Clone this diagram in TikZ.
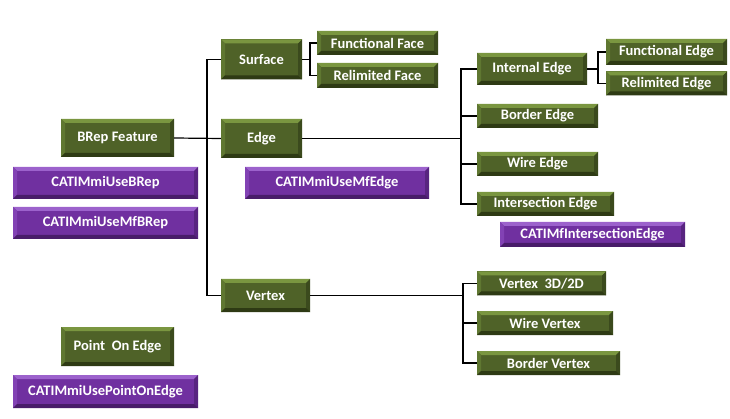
\documentclass[tikz,border=0pt]{standalone}
\usepackage{fontspec}
\setmainfont{Carlito}
\usetikzlibrary{calc}

\definecolor{grnmid}{HTML}{4F6228}
\definecolor{grntop}{HTML}{7A9640}
\definecolor{grnleft}{HTML}{5F7731}
\definecolor{grnright}{HTML}{3B4A1D}
\definecolor{grnbot}{HTML}{2E3A14}
\definecolor{purmid}{HTML}{7030A0}
\definecolor{purtop}{HTML}{9C62CC}
\definecolor{purleft}{HTML}{8242B4}
\definecolor{purright}{HTML}{582480}
\definecolor{purbot}{HTML}{481C69}

\begin{document}
\begin{tikzpicture}[
  x=1pt, y=-1pt,
  font=\fontsize{14.5}{16}\selectfont\bfseries,
  bevel/.style n args={4}{path picture={
    \coordinate (bnw) at (path picture bounding box.north west);
    \coordinate (bse) at (path picture bounding box.south east);
    \coordinate (bne) at (bse |- bnw);
    \coordinate (bsw) at (bnw |- bse);
    \fill[#1] (bnw) -- (bne) -- ($(bne)+(-4pt,-4pt)$) -- ($(bnw)+(4pt,-4pt)$) -- cycle;
    \fill[#2] (bnw) -- ($(bnw)+(4pt,-4pt)$) -- ($(bsw)+(4pt,4pt)$) -- (bsw) -- cycle;
    \fill[#3] (bne) -- ($(bne)+(-4pt,-4pt)$) -- ($(bse)+(-4pt,4pt)$) -- (bse) -- cycle;
    \fill[#4] (bsw) -- ($(bsw)+(4pt,4pt)$) -- ($(bse)+(-4pt,4pt)$) -- (bse) -- cycle;
  }},
  box/.style={text=white, inner sep=0pt, align=center},
  feat/.style={box, fill=grnmid, bevel={grntop}{grnleft}{grnright}{grnbot}},
  iface/.style={box, fill=purmid, bevel={purtop}{purleft}{purright}{purbot}},
  link/.style={line width=1.2pt, black}
]
  \useasboundingbox (0,0) rectangle (730,419);

  %% left column
  \node[feat, minimum width=113, minimum height=38] (brep) at (117.5,138) {BRep Feature};
  \node[iface, minimum width=185, minimum height=32] (usebrep) at (105.5,183) {CATIMmiUseBRep};
  \node[iface, minimum width=185, minimum height=32] (usemfbrep) at (105.5,223) {CATIMmiUseMfBRep};
  \node[feat, minimum width=113, minimum height=39] (ptonedge) at (117.5,346.5) {Point\ \ On Edge};
  \node[iface, minimum width=185, minimum height=33] (useptonedge) at (105.5,391.5) {CATIMmiUsePointOnEdge};

  %% topology
  \node[feat, minimum width=81, minimum height=40] (surf) at (261.5,59.5) {Surface};
  \node[feat, minimum width=81, minimum height=39] (edge) at (261.5,138.5) {Edge};
  \node[feat, minimum width=89, minimum height=33] (vert) at (265.5,295.5) {Vertex};
  \node[iface, minimum width=184, minimum height=32] (usemfedge) at (337,183) {CATIMmiUseMfEdge};

  %% faces
  \node[feat, minimum width=121, minimum height=24] (funcface) at (377.5,43) {Functional Face};
  \node[feat, minimum width=121, minimum height=25] (relface) at (377.5,75.5) {Relimited Face};

  %% edges
  \node[feat, minimum width=110, minimum height=32] (intedge) at (532,69) {Internal Edge};
  \node[feat, minimum width=121, minimum height=26] (funcedge) at (666.5,52) {Functional Edge};
  \node[feat, minimum width=121, minimum height=24] (reledge) at (666.5,83.5) {Relimited Edge};
  \node[feat, minimum width=121, minimum height=24] (bordedge) at (537.5,116) {Border Edge};
  \node[feat, minimum width=121, minimum height=24] (wireedge) at (537.5,164) {Wire Edge};
  \node[feat, minimum width=137, minimum height=24] (isedge) at (545.5,204) {Intersection Edge};
  \node[iface, minimum width=185, minimum height=25] (mfisedge) at (592.5,234.5) {CATIMfIntersectionEdge};

  %% vertices
  \node[feat, minimum width=129, minimum height=24] (vert3d) at (541.5,283.5) {Vertex\ \ 3D/2D};
  \node[feat, minimum width=136, minimum height=24] (wirevert) at (545,323) {Wire Vertex};
  \node[feat, minimum width=143, minimum height=24] (bordvert) at (548.5,363) {Border Vertex};

  %% forks
  \coordinate (tfork) at (207,138.5);
  \coordinate (sfork) at (310,59.5);
  \coordinate (efork) at (461,138.5);
  \coordinate (ifork) at (598,69);
  \coordinate (vfork) at (463,295.5);

  \draw[link] (surf.west) -| (tfork) |- (vert.west);
  \draw[link] (brep.east) -- (edge.west);

  \draw[link] (surf.east) -- (sfork);
  \draw[link] (funcface.west) -| (sfork) |- (relface.west);

  \draw[link] (edge.east) -- (efork);
  \draw[link] (intedge.west) -| (efork) |- (isedge.west);
  \draw[link] (efork |- bordedge.west) -- (bordedge.west);
  \draw[link] (efork |- wireedge.west) -- (wireedge.west);

  \draw[link] (intedge.east) -- (ifork);
  \draw[link] (funcedge.west) -| (ifork) |- (reledge.west);

  \draw[link] (vert.east) -- (vfork);
  \draw[link] (vert3d.west) -| (vfork) |- (bordvert.west);
  \draw[link] (vfork |- wirevert.west) -- (wirevert.west);

\end{tikzpicture}
\end{document}
